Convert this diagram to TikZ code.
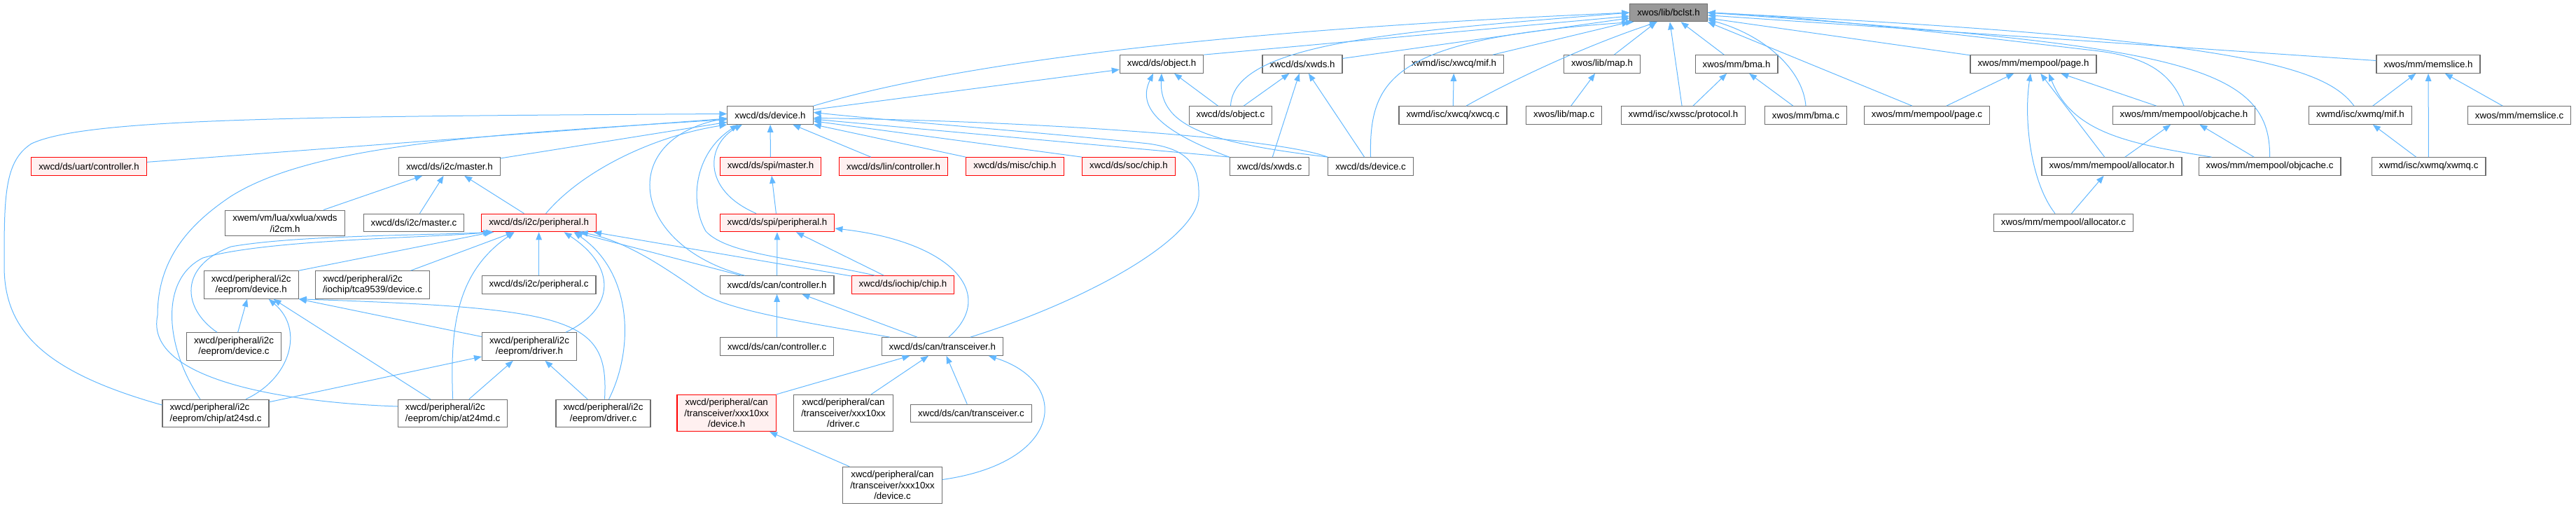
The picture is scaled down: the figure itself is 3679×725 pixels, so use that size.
\documentclass[tikz,border=0pt]{standalone}
\usepackage{fontspec}
\setmainfont{Liberation Sans}
\usetikzlibrary{arrows.meta}
\definecolor{edgeblue}{RGB}{99,184,255}
\definecolor{boxgrey}{RGB}{110,110,110}
\definecolor{rootgrey}{RGB}{153,153,153}
\definecolor{truncred}{RGB}{255,0,0}
\definecolor{truncbg}{RGB}{255,240,240}
\tikzset{
  file/.style={draw=boxgrey,fill=white,line width=1.2pt,font=\fontsize{13.3}{15.5}\selectfont,inner xsep=10.5pt,inner ysep=5.75pt,minimum height=25.5pt,align=center},
  rootfile/.style={file,fill=rootgrey},
  redfile/.style={file,draw=truncred,fill=truncbg},
  inc/.style={edgeblue,line width=1pt,-{Triangle[length=11pt,width=8.5pt]}},
}

\begin{document}
\begin{tikzpicture}[x=1pt,y=-1pt]
  \useasboundingbox (0,0) rectangle (3679,725);
  % row 0
  \node[rootfile] (bclst) at (2383,18) {xwos/lib/bclst.h};
  % row 1
  \node[file] (objh) at (1659,91.5) {xwcd/ds/object.h};
  \node[file] (xwdsh) at (1860,91.5) {xwcd/ds/xwds.h};
  \node[file] (cqmif) at (2076.5,91.5) {xwmd/isc/xwcq/mif.h};
  \node[file] (maph) at (2288,91.5) {xwos/lib/map.h};
  \node[file] (bmah) at (2480,91.5) {xwos/mm/bma.h};
  \node[file] (pageh) at (2904,91.5) {xwos/mm/mempool/page.h};
  \node[file] (slch) at (3468,91.5) {xwos/mm/memslice.h};
  % row 2
  \node[file] (devh) at (1100,164.5) {xwcd/ds/device.h};
  \node[file] (objc) at (1757.5,164.5) {xwcd/ds/object.c};
  \node[file] (cqc) at (2075,164.5) {xwmd/isc/xwcq/xwcq.c};
  \node[file] (mapc) at (2233.7,164.5) {xwos/lib/map.c};
  \node[file] (proto) at (2404,164.5) {xwmd/isc/xwssc/protocol.h};
  \node[file] (bmac) at (2579,164.5) {xwos/mm/bma.c};
  \node[file] (pagec) at (2752,164.5) {xwos/mm/mempool/page.c};
  \node[file] (ocah) at (3119,164.5) {xwos/mm/mempool/objcache.h};
  \node[file] (mqmif) at (3371,164.5) {xwmd/isc/xwmq/mif.h};
  \node[file] (slcc) at (3598,164.5) {xwos/mm/memslice.c};
  % row 3
  \node[redfile] (uart) at (127,237.5) {xwcd/ds/uart/controller.h};
  \node[file] (i2cmh) at (642,237.5) {xwcd/ds/i2c/master.h};
  \node[redfile] (spimh) at (1100.5,237.5) {xwcd/ds/spi/master.h};
  \node[redfile] (lin) at (1276,237.5) {xwcd/ds/lin/controller.h};
  \node[redfile] (misc) at (1449.5,237.5) {xwcd/ds/misc/chip.h};
  \node[redfile] (soc) at (1612,237.5) {xwcd/ds/soc/chip.h};
  \node[file] (xwdsc) at (1813,237.5) {xwcd/ds/xwds.c};
  \node[file] (devc) at (1957.5,237.5) {xwcd/ds/device.c};
  \node[file] (alloch) at (3016,237.5) {xwos/mm/mempool/allocator.h};
  \node[file] (ocac) at (3241.5,237.5) {xwos/mm/mempool/objcache.c};
  \node[file] (mqc) at (3468.5,237.5) {xwmd/isc/xwmq/xwmq.c};
  % row 4
  \node[file] (luai2c) at (407,318.5) {xwem/vm/lua/xwlua/xwds\\/i2cm.h};
  \node[file] (i2cmc) at (591,318) {xwcd/ds/i2c/master.c};
  \node[redfile] (i2cph) at (769.6,318) {xwcd/ds/i2c/peripheral.h};
  \node[redfile] (spiph) at (1110,318) {xwcd/ds/spi/peripheral.h};
  \node[file] (allocc) at (2947,318) {xwos/mm/mempool/allocator.c};
  % row 5
  \node[file] (eepdevh) at (358.7,406.5) {xwcd/peripheral/i2c\\/eeprom/device.h};
  \node[file,align=left] (tca) at (532,406.5) {xwcd/peripheral/i2c\\/iochip/tca9539/device.c};
  \node[file] (i2cpc) at (769.6,406.5) {xwcd/ds/i2c/peripheral.c};
  \node[file] (canctlh) at (1109.6,406.5) {xwcd/ds/can/controller.h};
  \node[redfile] (iochip) at (1289.5,406.5) {xwcd/ds/iochip/chip.h};
  % row 6
  \node[file] (eepdevc) at (334,494.5) {xwcd/peripheral/i2c\\/eeprom/device.c};
  \node[file] (eepdrvh) at (756,494.5) {xwcd/peripheral/i2c\\/eeprom/driver.h};
  \node[file] (canctlc) at (1109.6,494.5) {xwcd/ds/can/controller.c};
  \node[file] (trxh) at (1345.8,494.5) {xwcd/ds/can/transceiver.h};
  % row 7
  \node[file,align=left] (at24sd) at (308,590) {xwcd/peripheral/i2c\\/eeprom/chip/at24sd.c};
  \node[file,align=left] (at24md) at (646.6,590) {xwcd/peripheral/i2c\\/eeprom/chip/at24md.c};
  \node[file] (eepdrvc) at (861.5,590) {xwcd/peripheral/i2c\\/eeprom/driver.c};
  \node[redfile] (xxdevh) at (1037.7,589.5) {xwcd/peripheral/can\\/transceiver/xxx10xx\\/device.h};
  \node[file] (xxdrvc) at (1204.5,589.5) {xwcd/peripheral/can\\/transceiver/xxx10xx\\/driver.c};
  \node[file] (trxc) at (1387,590) {xwcd/ds/can/transceiver.c};
  % row 8
  \node[file] (xxdevc) at (1274.5,692.5) {xwcd/peripheral/can\\/transceiver/xxx10xx\\/device.c};

  % includes of bclst.h
  \draw[inc] (objh.north east) -- (bclst);
  \draw[inc] (devh.north east) .. controls (1350,95) and (1700,45) .. (bclst.west);
  \draw[inc] (xwdsh) -- (bclst);
  \draw[inc] (cqmif) -- (bclst);
  \draw[inc] (maph) -- (bclst);
  \draw[inc] (proto) -- (bclst);
  \draw[inc] (bmah) -- (bclst);
  \draw[inc] ([xshift=-21pt]pagec.north) -- (bclst.south east);
  \draw[inc] (pageh) -- (bclst);
  \draw[inc] (slch) -- (bclst);
  \draw[inc] (objc.north) .. controls (1762,60) and (2000,45) .. (bclst.west);
  \draw[inc] (devc.north) .. controls (1955,110) and (1990,55) .. (bclst.195);
  \draw[inc] ([xshift=19pt]cqc.north) .. controls (2140,125) and (2250,70) .. (bclst.220);
  \draw[inc] (bmac.north) .. controls (2575,100) and (2520,50) .. (bclst.350);
  \draw[inc] (ocah.north) .. controls (3100,100) and (3060,80) .. (2990,72) .. controls (2800,50) and (2600,25) .. (bclst.east);
  \draw[inc] (ocac.north) .. controls (3244,90) and (3100,65) .. (bclst.east);
  \draw[inc] ([xshift=-9pt]mqmif.north) .. controls (3320,95) and (3200,55) .. (bclst.east);

  % object.h and xwds.h
  \draw[inc] (devh) -- (objh);
  \draw[inc] (objc) -- (objh);
  \draw[inc] (xwdsc.north west) .. controls (1650,185) and (1625,150) .. ([xshift=-12pt]objh.south);
  \draw[inc] (devc.north west) .. controls (1740,205) and (1655,185) .. (objh.south);
  \draw[inc] (objc) -- (xwdsh);
  \draw[inc] (xwdsc) -- (xwdsh);
  \draw[inc] (devc) -- (xwdsh);

  % device.h
  \draw[inc] (uart) -- (devh);
  \draw[inc] (i2cmh) -- (devh);
  \draw[inc] (spimh) -- (devh);
  \draw[inc] (lin) -- (devh);
  \draw[inc] (misc.north west) -- (devh);
  \draw[inc] (soc.north west) -- (devh);
  \draw[inc] (xwdsc.north west) -- (devh);
  \draw[inc] (devc.north west) .. controls (1820,195) and (1450,172) .. ([yshift=-4pt]devh.east);
  \draw[inc] ([xshift=10pt]i2cph.north) .. controls (830,245) and (930,195) .. (devh.south west);
  \draw[inc] ([xshift=-30pt]spiph.north) .. controls (1000,270) and (1010,205) .. ([xshift=-40pt]devh.south);
  \draw[inc] ([xshift=-46pt]canctlh.north) .. controls (900,350) and (880,200) .. ([yshift=-4pt]devh.west);
  \draw[inc] ([xshift=-40pt]iochip.north) .. controls (1150,370) and (1040,365) .. (1008,330) .. controls (985,290) and (990,220) .. ([xshift=-46pt]devh.south);
  \draw[inc] ([xshift=40pt]trxh.north) .. controls (1550,430) and (1715,340) .. (1712,277) .. controls (1713,230) and (1690,212) .. (1640,205) .. controls (1500,190) and (1300,175) .. ([yshift=4pt]devh.east);
  \draw[inc] ([yshift=12pt]at24sd.west) .. controls (60,530) and (6,470) .. (6,380) .. controls (6,280) and (6,230) .. (45,205) .. controls (120,170) and (400,166) .. ([yshift=2pt]devh.west);
  \draw[inc] ([yshift=10pt]at24md.west) .. controls (420,575) and (205,545) .. (225,450) .. controls (225,370) and (270,320) .. (330,280) .. controls (450,205) and (700,192) .. ([yshift=-6pt]devh.west);

  % i2c/master.h and spi/master.h
  \draw[inc] (luai2c) -- (i2cmh);
  \draw[inc] (i2cmc) -- (i2cmh);
  \draw[inc] (i2cph) -- (i2cmh);
  \draw[inc] (spiph) -- (spimh);

  % i2c/peripheral.h
  \draw[inc] (eepdevh.north east) -- (i2cph);
  \draw[inc] (tca) -- (i2cph);
  \draw[inc] (i2cpc) -- (i2cph);
  \draw[inc] (canctlh) -- (i2cph);
  \draw[inc] (iochip) -- (i2cph);
  \draw[inc] ([xshift=-24pt]eepdevc.north) .. controls (260,440) and (255,380) .. (330,352) .. controls (420,336) and (600,336) .. ([xshift=18pt]i2cph.south west);
  \draw[inc] ([xshift=-22pt]at24sd.north) .. controls (238,500) and (225,400) .. (290,368) .. controls (380,342) and (600,340) .. ([xshift=14pt]i2cph.south west);
  \draw[inc] (at24md.north) .. controls (643,470) and (650,390) .. ([xshift=-35pt]i2cph.south);
  \draw[inc] ([xshift=52pt]eepdrvh.north) .. controls (880,440) and (880,380) .. ([xshift=36pt]i2cph.south);
  \draw[inc] ([xshift=8pt]eepdrvc.north) .. controls (905,500) and (905,390) .. ([xshift=50pt]i2cph.south);
  \draw[inc] ([xshift=-75pt]trxh.north) .. controls (1150,460) and (1050,445) .. (1005,420) .. controls (960,390) and (900,345) .. ([xshift=59pt]i2cph.south);

  % spi/peripheral.h and can/controller.h
  \draw[inc] (canctlh) -- (spiph);
  \draw[inc] (iochip) -- (spiph);
  \draw[inc] ([xshift=9pt]trxh.north) .. controls (1425,420) and (1360,345) .. ([yshift=-8pt]spiph.east);
  \draw[inc] (canctlc) -- (canctlh);
  \draw[inc] (trxh) -- (canctlh);

  % can/transceiver.h
  \draw[inc] (xxdevh.north east) -- (trxh);
  \draw[inc] (xxdrvc) -- (trxh);
  \draw[inc] (trxc) -- (trxh);
  \draw[inc] ([yshift=8pt]xxdevc.east) .. controls (1520,660) and (1530,545) .. ([xshift=66pt]trxh.south);
  \draw[inc] (xxdevc) -- (xxdevh);

  % eeprom/device.h and eeprom/driver.h
  \draw[inc] (eepdevc) -- (eepdevh);
  \draw[inc] (at24md) -- (eepdevh);
  \draw[inc] (eepdrvh) -- (eepdevh.south east);
  \draw[inc] ([xshift=43pt]at24sd.north) .. controls (415,540) and (435,470) .. ([xshift=25pt]eepdevh.south);
  \draw[inc] ([xshift=2pt]eepdrvc.north) .. controls (870,455) and (820,440) .. (eepdevh.south east);
  \draw[inc] (at24sd) -- (eepdrvh);
  \draw[inc] (at24md) -- (eepdrvh);
  \draw[inc] (eepdrvc) -- (eepdrvh);

  % lib, bma, xwcq
  \draw[inc] (proto) -- (bmah);
  \draw[inc] (bmac) -- (bmah);
  \draw[inc] (mapc) -- (maph);
  \draw[inc] (cqc) -- (cqmif);

  % mempool
  \draw[inc] (pagec) -- (pageh);
  \draw[inc] (alloch) -- (pageh);
  \draw[inc] (ocah) -- (pageh);
  \draw[inc] ([xshift=-12pt]allocc.north) .. controls (2900,260) and (2890,170) .. ([xshift=-4pt]pageh.south);
  \draw[inc] ([xshift=-83pt]ocac.north) .. controls (3040,205) and (2960,190) .. ([xshift=22pt]pageh.south);
  \draw[inc] (allocc) -- (alloch);
  \draw[inc] (alloch) -- (ocah);
  \draw[inc] (ocac) -- (ocah);

  % memslice and xwmq
  \draw[inc] (mqmif) -- (slch);
  \draw[inc] (mqc) -- (slch);
  \draw[inc] (slcc) -- (slch);
  \draw[inc] (mqc) -- (mqmif);
\end{tikzpicture}
\end{document}
